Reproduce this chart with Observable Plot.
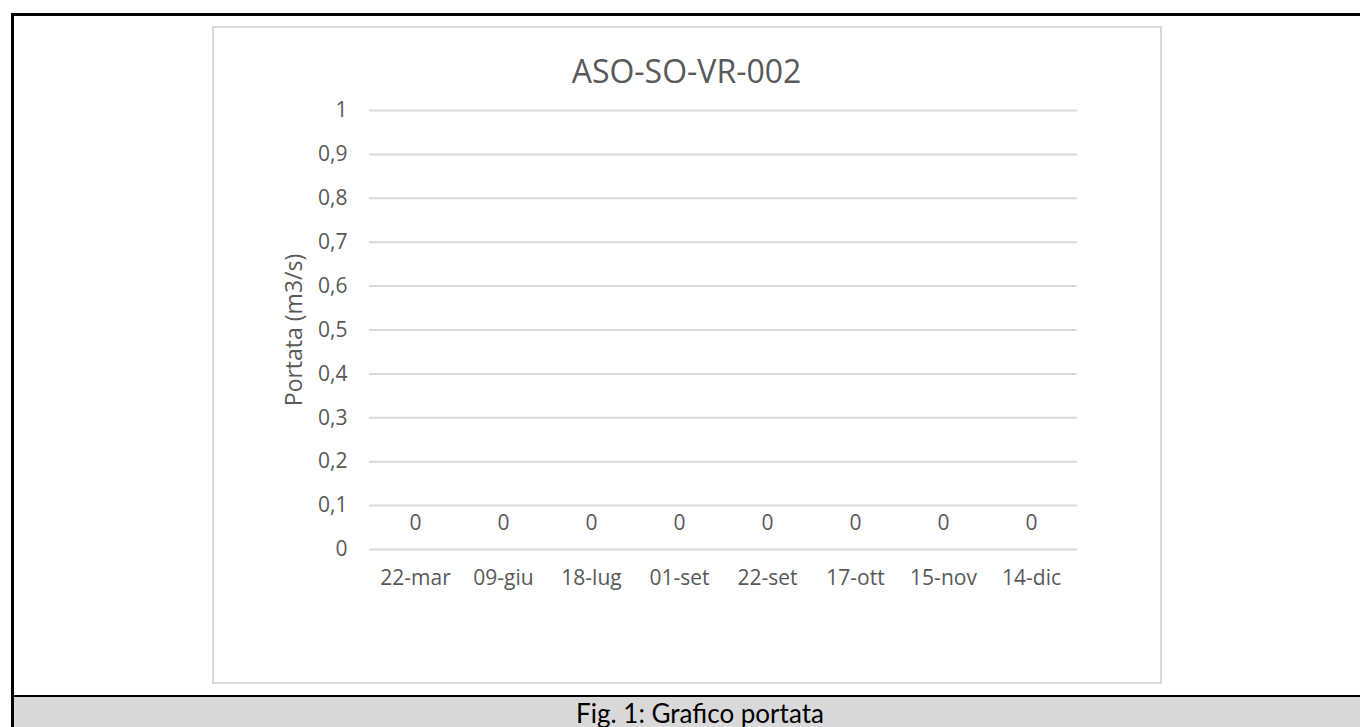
<!DOCTYPE html>
<html><head><meta charset="utf-8">
<script src="https://cdn.jsdelivr.net/npm/d3@7"></script>
<script src="https://cdn.jsdelivr.net/npm/@observablehq/plot@0.6"></script>
<style>
html,body{margin:0;padding:0;width:1360px;height:727px;overflow:hidden;background:#fff;}
#outer{position:absolute;left:11px;top:13px;width:1400px;height:800px;border:3px solid #000;box-sizing:border-box;}
#band{position:absolute;left:14px;top:695px;width:1400px;height:40px;background:#d9d9d9;border-top:2px solid #000;}
#caption{position:absolute;left:0;width:1400px;top:697px;text-align:center;font-family:Lato,"Open Sans",sans-serif;font-size:26px;color:#000;}
#box{position:absolute;left:212px;top:26px;width:950px;height:658px;border:2px solid #d9d9d9;box-sizing:border-box;}
#title{position:absolute;left:213px;width:947px;top:49px;text-align:center;font-family:"Open Sans",sans-serif;font-size:32px;line-height:normal;color:#595959;}
#chart{position:absolute;left:213px;top:27px;}
</style></head>
<body>
<div id="outer"></div>
<div id="band"></div>
<div id="caption">Fig. 1: Grafico portata</div>
<div id="box"></div>
<div id="title">ASO-SO-VR-002</div>
<div id="chart"></div>
<script>
const dates = ["22-mar","09-giu","18-lug","01-set","22-set","17-ott","15-nov","14-dic"];
const portata = [0,0,0,0,0,0,0,0];
const yTicks = [0,0.1,0.2,0.3,0.4,0.5,0.6,0.7,0.8,0.9,1];
const data = dates.map((d,i)=>({date:d, value:portata[i]}));
const fmt = v => String(+v.toFixed(1)).replace(".", ",");
const chart = Plot.plot({
  width: 947, height: 655,
  marginLeft: 156, marginRight: 83, marginTop: 83, marginBottom: 133,
  style: {fontFamily: '"Open Sans", sans-serif', fontSize: "21px", color: "#595959", background: "transparent"},
  x: {domain: dates, padding: 0},
  y: {domain: [0,1]},
  marks: [
    Plot.gridY(yTicks, {stroke: "#d9d9d9", strokeOpacity: 1, strokeWidth: 2}),
    Plot.axisY(yTicks, {tickSize: 0, tickPadding: 22, tickFormat: fmt, fill: "#595959", fontSize: 21, label: null}),
    Plot.axisY({ticks: [], tickSize: 0, fontSize: 23, fill: "#595959",
      label: "Portata (m3/s)", labelAnchor: "center", labelArrow: "none", labelOffset: 84}),
    Plot.axisX({tickSize: 0, tickPadding: 21, fill: "#595959", fontSize: 21, label: null}),
    Plot.barY(data, {x: "date", y: "value", fill: "#4472c4", insetLeft: 20, insetRight: 20}),
    Plot.text(data, {x: "date", y: "value", text: d => fmt(d.value), dy: -26, fill: "#595959", fontSize: 21})
  ]
});
document.getElementById("chart").appendChild(chart);
</script>
</body></html>
